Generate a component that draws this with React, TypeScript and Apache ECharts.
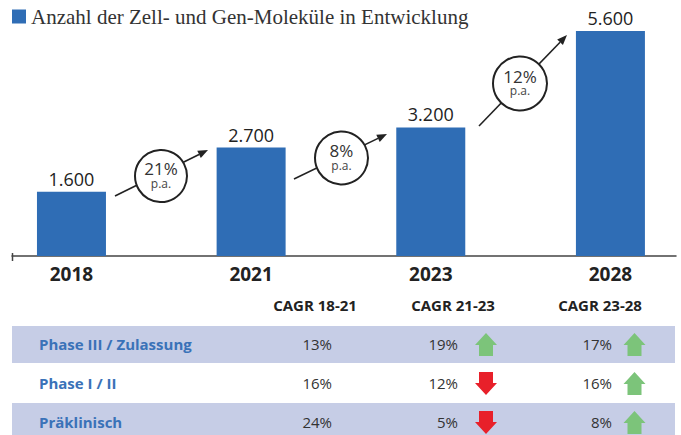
import React, { useEffect, useRef } from "react";
import * as echarts from "echarts";

const titleText = "Anzahl der Zell- und Gen-Moleküle in Entwicklung";
const years = ["2018", "2021", "2023", "2028"];
const moleculeCounts = [1600, 2700, 3200, 5600];
const cagrBubbles = ["21%", "8%", "12%"];

const tableHeaders = ["CAGR 18-21", "CAGR 21-23", "CAGR 23-28"];
const rowLabels = ["Phase III / Zulassung", "Phase I / II", "Präklinisch"];
const cagr1821 = ["13%", "16%", "24%"];
const cagr2123 = ["19%", "12%", "5%"];
const cagr2328 = ["17%", "16%", "8%"];
const trend2123 = ["up", "down", "down"];
const trend2328 = ["up", "up", "up"];

const BLUE = "#2f6db5";
const FONT = "'Open Sans', 'Noto Sans', sans-serif";

function fmt(v: number) {
  return String(v).replace(/\B(?=(\d{3})+(?!\d))/g, ".");
}

function arrowShape(cx: number, cy: number, dir: string, color: string) {
  const h = 23, hw = 11, sw = 7, head = 12;
  const top = cy - h / 2;
  let pts: number[][];
  if (dir === "up") {
    pts = [
      [cx, top], [cx + hw, top + head], [cx + sw, top + head], [cx + sw, top + h],
      [cx - sw, top + h], [cx - sw, top + head], [cx - hw, top + head],
    ];
  } else {
    const bot = top + h;
    pts = [
      [cx, bot], [cx + hw, bot - head], [cx + sw, bot - head], [cx + sw, top],
      [cx - sw, top], [cx - sw, bot - head], [cx - hw, bot - head],
    ];
  }
  return { type: "polygon", shape: { points: pts }, style: { fill: color }, silent: true };
}

function bubble(cx: number, cy: number, r: number, x1: number, y1: number, x2: number, y2: number, label: string) {
  const ang = Math.atan2(y2 - y1, x2 - x1);
  const L = 10, W = 4;
  const bx = x2 - L * Math.cos(ang), by = y2 - L * Math.sin(ang);
  const px = -Math.sin(ang), py = Math.cos(ang);
  return [
    { type: "line", shape: { x1, y1, x2: bx, y2: by }, style: { stroke: "#222", lineWidth: 1.6 }, silent: true },
    {
      type: "polygon",
      shape: { points: [[x2, y2], [bx + px * W, by + py * W], [bx - px * W, by - py * W]] },
      style: { fill: "#222" }, silent: true,
    },
    { type: "circle", shape: { cx, cy, r }, style: { fill: "#fff", stroke: "#222", lineWidth: 2 }, silent: true },
    {
      type: "text", x: cx, y: cy - 7.5,
      style: { text: label, font: `17px ${FONT}`, fill: "#333", align: "center", verticalAlign: "middle" }, silent: true,
    },
    {
      type: "text", x: cx, y: cy + 7,
      style: { text: "p.a.", font: `12px ${FONT}`, fill: "#444", align: "center", verticalAlign: "middle" }, silent: true,
    },
  ];
}

export default function App() {
  const ref = useRef<HTMLDivElement>(null);
  useEffect(() => {
    if (!ref.current) return;
    const chart = echarts.init(ref.current, null, { renderer: "svg" });

    const graphics: any[] = [];
    // left end tick of axis
    graphics.push({ type: "line", shape: { x1: 12.5, y1: 253, x2: 12.5, y2: 261 }, style: { stroke: "#444", lineWidth: 1.5 }, silent: true });
    // bubbles
    graphics.push(...bubble(161, 176, 26, 115, 196, 208, 150, cagrBubbles[0]));
    graphics.push(...bubble(341.5, 158, 26.5, 294, 179, 387, 134, cagrBubbles[1]));
    graphics.push(...bubble(520, 83.5, 27, 479, 126, 567, 35, cagrBubbles[2]));

    // table
    const rowY = [344, 383, 422];
    graphics.push({ type: "rect", shape: { x: 12, y: 326, width: 663, height: 37 }, style: { fill: "#c6cde6" }, silent: true });
    graphics.push({ type: "rect", shape: { x: 12, y: 403, width: 663, height: 40 }, style: { fill: "#c6cde6" }, silent: true });
    const headerX = [315, 453, 600];
    tableHeaders.forEach((h, i) => {
      graphics.push({
        type: "text", x: headerX[i], y: 305,
        style: { text: h, font: `bold 15px ${FONT}`, fill: "#222", align: "center", verticalAlign: "middle" }, silent: true,
      });
    });
    rowLabels.forEach((lbl, i) => {
      const y = rowY[i];
      graphics.push({
        type: "text", x: 39, y,
        style: { text: lbl, font: `bold 15px ${FONT}`, fill: "#3a72b8", align: "left", verticalAlign: "middle" }, silent: true,
      });
      const vals = [cagr1821[i], cagr2123[i], cagr2328[i]];
      const rx = [332, 458, 612];
      vals.forEach((v, j) => {
        graphics.push({
          type: "text", x: rx[j], y,
          style: { text: v, font: `15px ${FONT}`, fill: "#333", align: "right", verticalAlign: "middle" }, silent: true,
        });
      });
      const t2 = trend2123[i], t3 = trend2328[i];
      graphics.push(arrowShape(486, y + 0.5, t2, t2 === "up" ? "#7cc47a" : "#e8202a"));
      graphics.push(arrowShape(634.5, y + 0.5, t3, t3 === "up" ? "#7cc47a" : "#e8202a"));
    });

    chart.setOption({
      animation: false,
      legend: {
        show: true,
        left: 12,
        top: 6,
        itemWidth: 14,
        itemHeight: 14,
        itemGap: 10,
        icon: "rect",
        padding: 0,
        textStyle: { fontFamily: "'Liberation Serif', serif", fontSize: 21, color: "#333", padding: [0, 0, 0, 0] },
        data: [titleText],
      },
      grid: { left: 12, right: 5, top: 15, bottom: 179 },
      xAxis: {
        type: "value",
        min: -0.331,
        max: 3.365,
        splitLine: { show: false },
        axisTick: { show: false },
        axisLine: { show: true, onZero: false, lineStyle: { color: "#444", width: 1.5 } },
        axisLabel: {
          customValues: [0, 1, 2, 3],
          formatter: (v: number) => years[Math.round(v)],
          fontFamily: FONT,
          fontWeight: "bold",
          fontSize: 19,
          color: "#222",
          margin: 8,
        },
      },
      yAxis: { type: "value", min: 0, max: 6000, show: false, splitLine: { show: false } },
      series: [
        {
          name: titleText,
          type: "bar",
          barWidth: 69,
          itemStyle: { color: BLUE },
          data: moleculeCounts.map((v, i) => [i, v]),
          label: {
            show: true,
            position: "top",
            distance: 4,
            formatter: (p: any) => fmt(p.value[1]),
            fontFamily: FONT,
            fontSize: 18,
            color: "#222",
          },
        },
      ],
      graphic: graphics,
    });
    return () => chart.dispose();
  }, []);
  return <div ref={ref} style={{ position: "fixed", left: 0, top: 0, width: 681, height: 435, background: "#fff" }} />;
}
